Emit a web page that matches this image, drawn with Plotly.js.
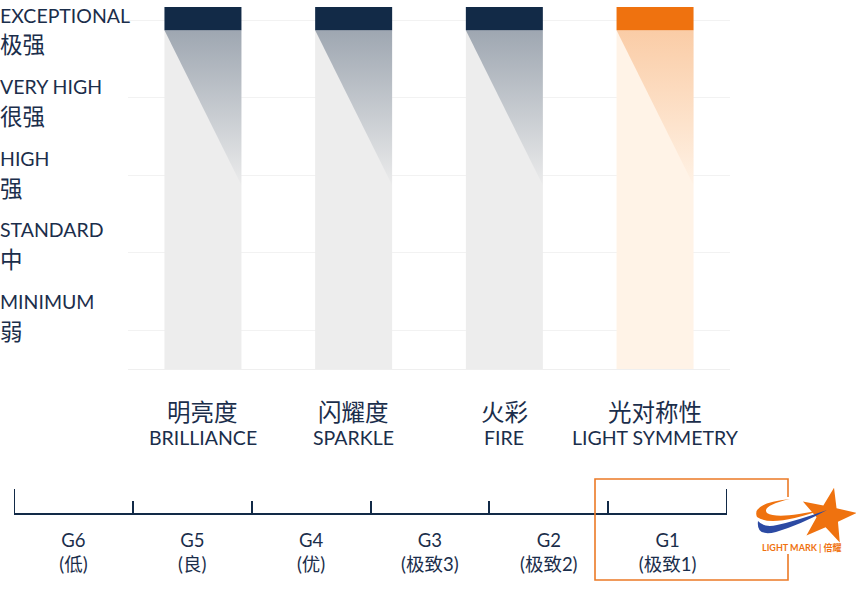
<!DOCTYPE html>
<html>
<head>
<meta charset="utf-8">
<script src="https://cdn.plot.ly/plotly-3.0.1.min.js"></script>
<style>html,body{margin:0;padding:0;background:#fff;}#chart{width:856px;height:589px;}</style>
</head>
<body>
<div id="chart"></div>
<script>
// ---------------- data ----------------
const categoriesZh = ['明亮度', '闪耀度', '火彩', '光对称性'];
const categoriesEn = ['BRILLIANCE', 'SPARKLE', 'FIRE', 'LIGHT SYMMETRY'];
const ratings = [5, 5, 5, 5];              // 5 = EXCEPTIONAL
const highlighted = [false, false, false, true];
const levelsEn = ['EXCEPTIONAL', 'VERY HIGH', 'HIGH', 'STANDARD', 'MINIMUM'];
const levelsZh = ['极强', '很强', '强', '中', '弱'];
const levelValues = [5, 4, 3, 2, 1];
const grades = ['G6', 'G5', 'G4', 'G3', 'G2', 'G1'];
const gradesZh = ['低', '良', '优', '极致3', '极致2', '极致1'];
const highlightedGrade = 'G1';
const logoText = 'LIGHT MARK | 倍耀';

// ---------------- style ----------------
const W = 856, H = 589;
const NAVY = '#122a47';
const TEXT = '#1b2e4b';
const ORANGE = '#ef720f';
const BOX = '#ec7a26';
const EN_FONT = 'Lato, "Noto Sans", sans-serif';
const ZH_FONT = '"Noto Sans CJK SC", sans-serif';
const MIX_FONT = 'Lato, "Noto Sans CJK SC", sans-serif';
const px = x => x / W;
const py = y => 1 - y / H;
const floor = 0.5, capLow = 0.13, capHigh = 0.17, barW = 0.511, fadeDepth = 2;

const xs = ratings.map((_, i) => i);
const traces = [];

// light columns
traces.push({
  type: 'bar', x: xs, base: ratings.map(() => floor),
  y: ratings.map(v => v - capLow - floor), width: barW,
  marker: {color: highlighted.map(h => h ? '#fff3e7' : '#ededed'), line: {width: 0}},
  hoverinfo: 'skip'
});
// fading triangles
xs.forEach((x, i) => {
  const top = ratings[i] - capLow;
  const rgb = highlighted[i] ? '239,114,15' : '18,42,71';
  const a = highlighted[i] ? 0.30 : 0.36;
  traces.push({
    type: 'scatter', mode: 'lines', line: {width: 0},
    x: [x - barW / 2, x + barW / 2, x + barW / 2, x - barW / 2],
    y: [top, top, top - fadeDepth, top],
    fill: 'toself',
    fillgradient: {type: 'vertical', colorscale: [[0, `rgba(${rgb},0.01)`], [1, `rgba(${rgb},${a})`]]},
    hoverinfo: 'skip'
  });
});
// caps
traces.push({
  type: 'bar', x: xs, base: ratings.map(v => v - capLow),
  y: ratings.map(() => capLow + capHigh), width: barW,
  marker: {color: highlighted.map(h => h ? ORANGE : NAVY), line: {width: 0}},
  hoverinfo: 'skip'
});
// grade scale (category axis)
const gradeLabels = grades.map((g, i) => g + '<br>(' + gradesZh[i] + ')');
traces.push({
  type: 'scatter', mode: 'markers', x: gradeLabels, y: grades.map(() => 0.5),
  xaxis: 'x2', yaxis: 'y2', marker: {opacity: 0}, hoverinfo: 'skip'
});

// ---------------- annotations ----------------
const annotations = [];
levelsEn.forEach((t, i) => {
  const yc = 15 + i * 71.5;
  annotations.push({text: t, xref: 'paper', yref: 'paper', x: px(-2), y: py(yc), xanchor: 'left', yanchor: 'middle',
    showarrow: false, font: {family: EN_FONT, size: 19.5, color: TEXT}});
  annotations.push({text: levelsZh[i], xref: 'paper', yref: 'paper', x: px(-2), y: py(yc + 28.5), xanchor: 'left', yanchor: 'middle',
    showarrow: false, font: {family: ZH_FONT, size: 22.5, color: TEXT}});
});
categoriesZh.forEach((t, i) => {
  annotations.push({text: t, xref: 'x', yref: 'paper', x: xs[i], y: py(411), xanchor: 'center', yanchor: 'middle',
    showarrow: false, font: {family: ZH_FONT, size: 23.5, color: TEXT}});
  annotations.push({text: categoriesEn[i], xref: 'x', yref: 'paper', x: xs[i], y: py(437), xanchor: 'center', yanchor: 'middle',
    showarrow: false, font: {family: EN_FONT, size: 19.5, color: TEXT}});
});
annotations.push({text: '<b>' + logoText + '</b>', xref: 'paper', yref: 'paper', x: px(802), y: py(547),
  xanchor: 'center', yanchor: 'middle', showarrow: false, font: {family: MIX_FONT, size: 9, color: ORANGE}});

// ---------------- shapes ----------------
function pathFrom(pts) {
  return 'M' + pts.map(p => px(p[0]).toFixed(5) + ',' + py(p[1]).toFixed(5)).join('L') + 'Z';
}
function P(x, y) { return px(x).toFixed(5) + ',' + py(y).toFixed(5); }
const starPts = [];
for (let k = 0; k < 10; k++) {
  const ang = (-90 + 12 + k * 36) * Math.PI / 180;
  const r = k % 2 === 0 ? 29 : 11.5;
  starPts.push([828 + r * Math.cos(ang), 516 + r * Math.sin(ang)]);
}
const shapes = [
  // taller end ticks of the grade scale
  {type: 'line', xref: 'x2', yref: 'paper', x0: -0.5, x1: -0.5, y0: py(513), y1: py(489), line: {color: NAVY, width: 2}},
  {type: 'line', xref: 'x2', yref: 'paper', x0: grades.length - 0.5, x1: grades.length - 0.5, y0: py(513), y1: py(489), line: {color: NAVY, width: 2}},
  // highlight box
  {type: 'rect', xref: 'paper', yref: 'paper', x0: px(595), x1: px(788), y0: py(580), y1: py(479), line: {color: BOX, width: 1.6}},
  {type: 'rect', xref: 'paper', yref: 'paper', x0: px(780), x1: px(796), y0: py(554), y1: py(497), fillcolor: '#ffffff', line: {width: 0}},
  // logo
  {type: 'path', xref: 'paper', yref: 'paper', path: pathFrom(starPts), fillcolor: ORANGE, line: {width: 0}},
  {type: 'path', xref: 'paper', yref: 'paper', fillcolor: ORANGE, line: {width: 0},
    path: 'M' + P(790, 499) + 'Q' + P(751, 503) + ' ' + P(757, 517) + 'Q' + P(772, 528) + ' ' + P(824, 509) +
      'Q' + P(778, 520) + ' ' + P(767, 513) + 'Q' + P(761, 506) + ' ' + P(790, 499) + 'Z'},
  {type: 'path', xref: 'paper', yref: 'paper', fillcolor: '#2c4aa3', line: {width: 0},
    path: 'M' + P(758, 521) + 'Q' + P(756, 537) + ' ' + P(776, 532) + 'Q' + P(802, 524) + ' ' + P(827, 510) +
      'Q' + P(796, 521) + ' ' + P(777, 525) + 'Q' + P(764, 528) + ' ' + P(758, 521) + 'Z'}
];

// ---------------- layout ----------------
const layout = {
  width: W, height: H, margin: {l: 0, r: 0, t: 0, b: 0},
  paper_bgcolor: '#ffffff', plot_bgcolor: '#ffffff', showlegend: false,
  barmode: 'overlay',
  xaxis: {domain: [px(127.6), px(730.4)], range: [-0.5, 3.5], showticklabels: false, showgrid: false, zeroline: false,
    ticks: '', showline: true, linecolor: '#efefef', linewidth: 1, fixedrange: true},
  yaxis: {domain: [py(369), py(4.75)], range: [0.5, 5.2], tickvals: levelValues, showticklabels: false,
    gridcolor: '#f2f2f2', gridwidth: 1, zeroline: false, ticks: '', fixedrange: true},
  xaxis2: {type: 'category', anchor: 'y2', domain: [px(14), px(727)], range: [-0.5, grades.length - 0.5],
    categoryorder: 'array', categoryarray: gradeLabels,
    tickson: 'boundaries', ticks: 'inside', ticklen: 12, tickwidth: 2, tickcolor: NAVY,
    showline: true, linecolor: NAVY, linewidth: 2, showgrid: false, zeroline: false,
    tickfont: {family: MIX_FONT, size: 18.5, color: TEXT}, ticklabelstandoff: 10, fixedrange: true},
  yaxis2: {domain: [py(513), py(480)], anchor: 'x2', range: [0, 1], visible: false, fixedrange: true},
  annotations: annotations,
  shapes: shapes
};

Plotly.newPlot('chart', traces, layout, {displayModeBar: false, staticPlot: true});
</script>
</body>
</html>
